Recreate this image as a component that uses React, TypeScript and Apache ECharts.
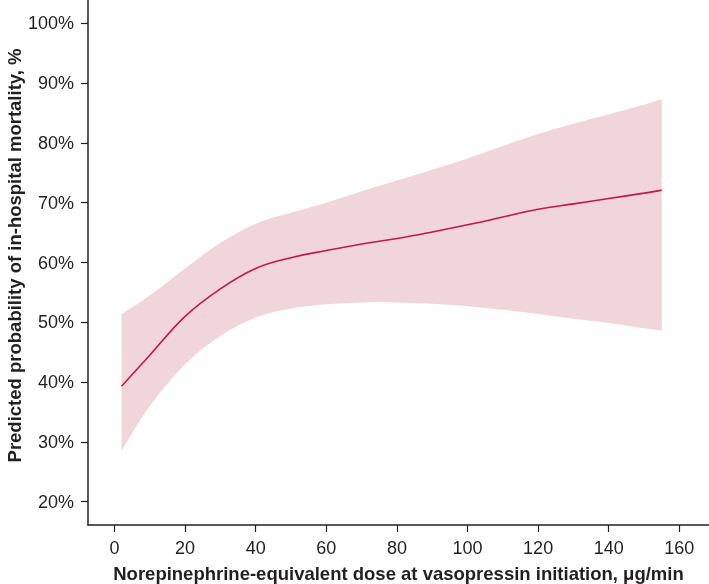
import React, { useEffect, useRef } from "react";
import * as echarts from "echarts";

const doses = [2, 10, 20, 30, 40, 50, 60, 70, 80, 90, 100, 110, 120, 130, 140, 150, 155];
const predicted = [39.3, 44.5, 51.0, 55.6, 59.0, 60.8, 62.0, 63.1, 64.0, 65.1, 66.3, 67.6, 68.9, 69.8, 70.7, 71.6, 72.1];
const upperCI = [51.4, 54.5, 59.0, 63.3, 66.5, 68.3, 70.0, 71.9, 73.7, 75.5, 77.4, 79.5, 81.5, 83.2, 84.8, 86.4, 87.3];
const lowerCI = [28.5, 36.0, 43.0, 47.7, 50.8, 52.3, 53.0, 53.3, 53.3, 53.1, 52.7, 52.1, 51.4, 50.6, 49.9, 49.0, 48.6];
const xTicks = [0, 20, 40, 60, 80, 100, 120, 140, 160];
const yTicks = [20, 30, 40, 50, 60, 70, 80, 90, 100];

type Pt = number[];

function smoothPath(pts: Pt[], start: boolean): string {
  let d = start ? `M${pts[0][0]},${pts[0][1]}` : `L${pts[0][0]},${pts[0][1]}`;
  const n = pts.length;
  for (let i = 0; i < n - 1; i++) {
    const p0 = pts[Math.max(0, i - 1)];
    const p1 = pts[i];
    const p2 = pts[i + 1];
    const p3 = pts[Math.min(n - 1, i + 2)];
    const c1x = p1[0] + (p2[0] - p0[0]) / 6;
    const c1y = p1[1] + (p2[1] - p0[1]) / 6;
    const c2x = p2[0] - (p3[0] - p1[0]) / 6;
    const c2y = p2[1] - (p3[1] - p1[1]) / 6;
    d += ` C${c1x},${c1y} ${c2x},${c2y} ${p2[0]},${p2[1]}`;
  }
  return d;
}

export default function App() {
  const ref = useRef<HTMLDivElement>(null);
  useEffect(() => {
    if (!ref.current) return;
    const chart = echarts.init(ref.current, null, { renderer: "svg" });
    const font = "'Liberation Sans', Arial, Helvetica, sans-serif";
    const ink = "#231f20";
    chart.setOption({
      animation: false,
      textStyle: { fontFamily: font },
      grid: { left: 88, right: 0, top: 0, bottom: 59, containLabel: false, outerBoundsMode: "none" },
      xAxis: {
        type: "value",
        min: -7.5,
        max: 168.4,
        name: "Norepinephrine-equivalent dose at vasopressin initiation, μg/min",
        nameLocation: "middle",
        nameGap: 39,
        nameMoveOverlap: false,
        nameTextStyle: { fontFamily: font, fontSize: 18.5, fontWeight: "bold", color: ink },
        axisLine: { show: true, onZero: false, lineStyle: { color: ink, width: 1.5 } },
        axisTick: { show: true, length: 7, lineStyle: { color: ink, width: 1.2 }, customValues: xTicks },
        axisLabel: { fontFamily: font, fontSize: 18, color: ink, margin: 14, customValues: xTicks },
        splitLine: { show: false },
      },
      yAxis: {
        type: "value",
        min: 16.1,
        max: 103.9,
        name: "Predicted probability of in-hospital mortality, %",
        nameLocation: "middle",
        nameGap: 64,
        nameMoveOverlap: false,
        nameTextStyle: {
          fontFamily: font,
          fontSize: 18.5,
          fontWeight: "bold",
          color: ink,
          padding: [0, 0, 0, 14],
        },
        axisLine: { show: true, onZero: false, lineStyle: { color: ink, width: 1.5 } },
        axisTick: { show: true, length: 7, lineStyle: { color: ink, width: 1.2 }, customValues: yTicks },
        axisLabel: {
          fontFamily: font,
          fontSize: 18,
          color: ink,
          margin: 14,
          customValues: yTicks,
          formatter: (v: number) => `${v}%`,
        },
        splitLine: { show: false },
      },
      series: [
        {
          type: "custom",
          silent: true,
          data: doses.map((d, i) => [d, lowerCI[i], upperCI[i]]),
          encode: { x: 0, y: [1, 2] },
          renderItem: (params: any, api: any) => {
            if (params.dataIndex !== 0) return null;
            const up = doses.map((d, i) => api.coord([d, upperCI[i]]));
            const lo = doses.map((d, i) => api.coord([d, lowerCI[i]])).reverse();
            const pathData = smoothPath(up, true) + " " + smoothPath(lo, false) + " Z";
            return {
              type: "path",
              shape: { pathData },
              style: { fill: "#f0d5da", stroke: "none" },
            };
          },
          z: 1,
        },
        {
          type: "line",
          data: doses.map((d, i) => [d, predicted[i]]),
          smooth: 0.4,
          symbol: "none",
          lineStyle: { color: "#c5164c", width: 1.6 },
          z: 3,
        },
      ],
    });
    return () => chart.dispose();
  }, []);
  return <div ref={ref} style={{ position: "fixed", left: 0, top: 0, width: 709, height: 584 }} />;
}
